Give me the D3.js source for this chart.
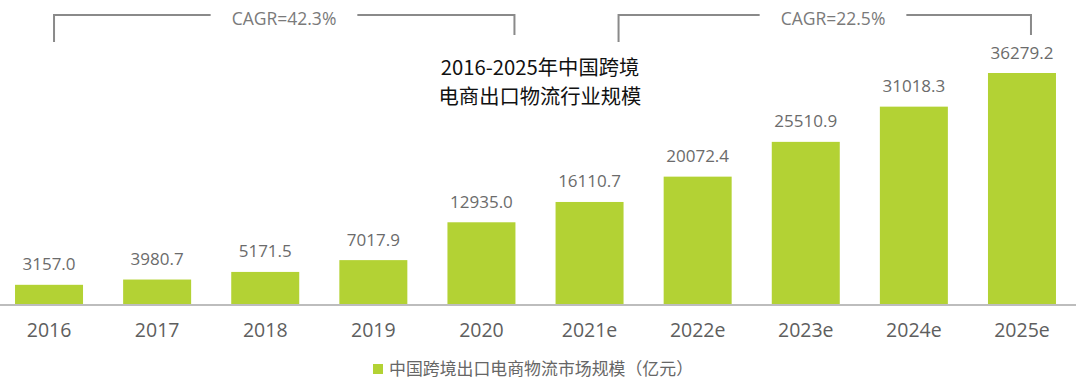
<!DOCTYPE html>
<html>
<head>
<meta charset="utf-8">
<script src="https://cdn.jsdelivr.net/npm/d3@7/dist/d3.min.js"></script>
<style>
html,body{margin:0;padding:0;background:#fff;}
svg{display:block;}
</style>
</head>
<body>
<svg id="chart" width="1080" height="381"></svg>
<script>
const categories = ["2016","2017","2018","2019","2020","2021e","2022e","2023e","2024e","2025e"];
const values = [3157.0, 3980.7, 5171.5, 7017.9, 12935.0, 16110.7, 20072.4, 25510.9, 31018.3, 36279.2];
const titleLines = ["2016-2025年中国跨境", "电商出口物流行业规模"];
const legendLabel = "中国跨境出口电商物流市场规模（亿元）";
const cagrLabels = ["CAGR=42.3%", "CAGR=22.5%"];
// bracket spans (index of start and end category)
const cagrSpans = [[0, 4], [5, 9]];

const latin = "'Open Sans','Noto Sans CJK SC',sans-serif";
const cjk = "'Noto Sans CJK SC','Open Sans',sans-serif";
const green = "#b3d234";

const svg = d3.select("#chart");
const baseY = 305;

const x = d3.scaleBand().domain(categories).range([0, 1071]).paddingInner(0.371).paddingOuter(0.139);
const y = d3.scaleLinear().domain([0, 36279.2]).range([baseY, 73]);

// bars
svg.append("g").selectAll("rect").data(values).join("rect")
  .attr("x", (d, i) => x(categories[i]))
  .attr("y", d => y(d))
  .attr("width", x.bandwidth())
  .attr("height", d => y(0) - y(d))
  .attr("fill", green);

// value labels
svg.append("g").selectAll("text").data(values).join("text")
  .attr("x", (d, i) => x(categories[i]) + x.bandwidth() / 2)
  .attr("y", d => y(d) - 14.5)
  .attr("text-anchor", "middle")
  .attr("font-family", latin)
  .attr("font-size", 17)
  .attr("fill", "#6b6b6b")
  .text(d => d.toFixed(1));

// baseline
svg.append("line")
  .attr("x1", 0).attr("x2", 1076)
  .attr("y1", baseY).attr("y2", baseY)
  .attr("stroke", "#bdbdbd").attr("stroke-width", 2);

// x axis labels
const xAxis = svg.append("g").attr("transform", `translate(0,${baseY})`)
  .call(d3.axisBottom(x).tickSize(0));
xAxis.select(".domain").remove();
xAxis.selectAll("text")
  .attr("dy", null)
  .attr("y", 32)
  .attr("font-family", latin)
  .attr("font-size", 19.5)
  .attr("fill", "#5e5e5e");

// title (two lines)
svg.append("g").selectAll("text").data(titleLines).join("text")
  .attr("x", 540)
  .attr("y", (d, i) => 74.5 + i * 29.5)
  .attr("text-anchor", "middle")
  .attr("font-family", cjk)
  .attr("font-size", 20.3)
  .attr("fill", "#111")
  .text(d => d);

// CAGR brackets
const bracketY = 15;
const startOffsets = [5, 29];
const endOffsets = [33, 9];
const textCenters = [284, 833];
const bracketG = svg.append("g");
cagrSpans.forEach((span, k) => {
  const x0 = x(categories[span[0]]) + x.bandwidth() / 2 + startOffsets[k];
  const x1 = x(categories[span[1]]) + x.bandwidth() / 2 + endOffsets[k];
  const cx = textCenters[k];
  const txt = bracketG.append("text")
    .attr("x", cx).attr("y", 25)
    .attr("text-anchor", "middle")
    .attr("font-family", latin)
    .attr("font-size", 17.5)
    .attr("fill", "#7a7a7a")
    .text(cagrLabels[k]);
  const w = txt.node().getComputedTextLength();
  const gap = 21;
  bracketG.append("path")
    .attr("d", `M${x0},${bracketY + 27}V${bracketY}H${cx - w / 2 - gap}`)
    .attr("fill", "none").attr("stroke", "#8a8a8a").attr("stroke-width", 2);
  bracketG.append("path")
    .attr("d", `M${cx + w / 2 + gap},${bracketY}H${x1}V${bracketY + 20}`)
    .attr("fill", "none").attr("stroke", "#8a8a8a").attr("stroke-width", 2);
});

// legend
const lg = svg.append("g");
lg.append("rect").attr("x", 373).attr("y", 364).attr("width", 10).attr("height", 10).attr("fill", green);
lg.append("text")
  .attr("x", 389).attr("y", 375)
  .attr("font-family", cjk)
  .attr("font-size", 16.9)
  .attr("fill", "#666")
  .text(legendLabel);
</script>
</body>
</html>
